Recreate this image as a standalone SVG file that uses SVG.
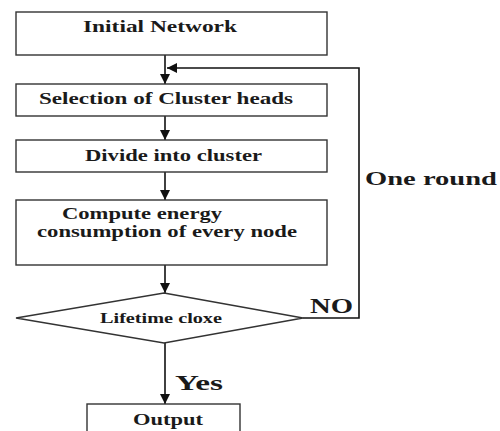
<svg xmlns="http://www.w3.org/2000/svg" width="500" height="431" viewBox="0 0 500 431">
<defs>
<style>
.box{fill:#fff;stroke:#333;stroke-width:1.4}
.ln{fill:none;stroke:#111;stroke-width:1.6}
.t{font-family:"Liberation Serif","Times New Roman",serif;font-weight:bold;fill:#1a1a1a}
</style>
<marker id="ah2" viewBox="0 0 10 10" refX="10" refY="5" markerWidth="10" markerHeight="10" markerUnits="userSpaceOnUse" orient="auto">
<path d="M0,0 L10,5 L0,10 z" fill="#111"/>
</marker>
</defs>
<rect width="500" height="431" fill="#fff"/>
<g id="connectors">
<line class="ln" x1="165" y1="55" x2="165" y2="84" marker-end="url(#ah2)"/>
<polyline class="ln" points="303,318 359,318 359,68 167,68" marker-end="url(#ah2)"/>
<line class="ln" x1="165" y1="116" x2="165" y2="140" marker-end="url(#ah2)"/>
<line class="ln" x1="165" y1="172" x2="165" y2="200" marker-end="url(#ah2)"/>
<line class="ln" x1="165" y1="265" x2="165" y2="293" marker-end="url(#ah2)"/>
<line class="ln" x1="165" y1="343" x2="165" y2="404" marker-end="url(#ah2)"/>
<text class="t" x="310" y="313" font-size="20" textLength="43" lengthAdjust="spacingAndGlyphs">NO</text>
<text class="t" x="175" y="390" font-size="21" textLength="48" lengthAdjust="spacingAndGlyphs">Yes</text>
<text class="t" x="365" y="185" font-size="19" textLength="132" lengthAdjust="spacingAndGlyphs">One round</text>
</g>
<g id="n1">
<rect class="box" x="16" y="12" width="311" height="43"/>
<text class="t" x="83" y="32" font-size="17" textLength="154" lengthAdjust="spacingAndGlyphs">Initial Network</text>
</g>
<g id="n2">
<rect class="box" x="16" y="84" width="311" height="32"/>
<text class="t" x="39" y="104" font-size="16" textLength="254" lengthAdjust="spacingAndGlyphs">Selection  of Cluster heads</text>
</g>
<g id="n3">
<rect class="box" x="16" y="140" width="311" height="32"/>
<text class="t" x="85" y="161" font-size="17" textLength="177" lengthAdjust="spacingAndGlyphs">Divide into cluster</text>
</g>
<g id="n4">
<rect class="box" x="16" y="200" width="311" height="65"/>
<text class="t" x="62" y="219" font-size="16" textLength="160" lengthAdjust="spacingAndGlyphs">Compute energy</text>
<text class="t" x="37" y="237" font-size="16" textLength="260" lengthAdjust="spacingAndGlyphs">consumption of every node</text>
</g>
<g id="n5">
<polygon class="box" points="164,293 303,318 164,343 16,318"/>
<text class="t" x="100" y="323" font-size="14" textLength="122" lengthAdjust="spacingAndGlyphs">Lifetime cloxe</text>
</g>
<g id="n6">
<rect class="box" x="87" y="404" width="153" height="40"/>
<text class="t" x="133" y="425" font-size="16" textLength="70" lengthAdjust="spacingAndGlyphs">Output</text>
</g>
</svg>
